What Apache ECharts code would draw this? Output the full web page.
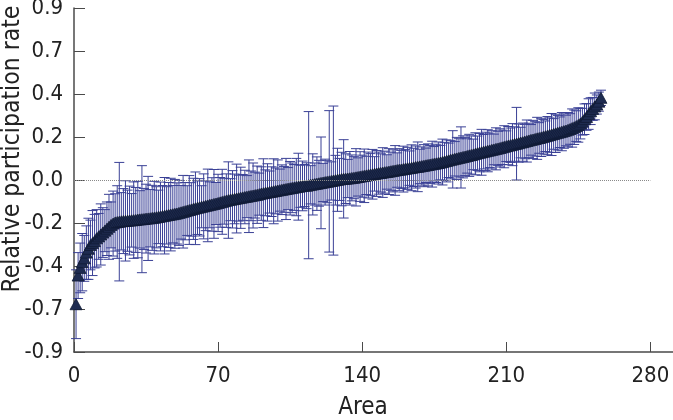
<!DOCTYPE html>
<html>
<head>
<meta charset="utf-8">
<script src="https://cdn.jsdelivr.net/npm/echarts@6/dist/echarts.min.js"></script>
<style>html,body{margin:0;padding:0;background:#fff}#c{width:673px;height:420px}</style>
</head>
<body>
<div id="c"></div>
<script>
// ---- data ----
var xTickValues = [0, 70, 140, 210, 280];
var yTickLabels = ["-0.9", "-0.7", "-0.4", "-0.2", "0.0", "0.2", "0.4", "0.7", "0.9"];
var xLabel = "Area";
var yLabel = "Relative participation rate";

// relative participation rate per area (sorted), area index 1..255
var rates = [
 -0.65, -0.50, -0.46, -0.43, -0.41, -0.38, -0.36, -0.34, -0.33, -0.32,
 -0.305, -0.295, -0.285, -0.275, -0.265, -0.255, -0.245, -0.235, -0.228, -0.222,
 -0.220, -0.218, -0.216, -0.215, -0.214, -0.213, -0.212, -0.211, -0.210, -0.209,
 -0.207, -0.206, -0.205, -0.204, -0.202, -0.201, -0.200, -0.198, -0.197, -0.195,
 -0.193, -0.191, -0.189, -0.187, -0.185, -0.183, -0.181, -0.179, -0.177, -0.175,
 -0.172, -0.169, -0.166, -0.163, -0.160, -0.157, -0.154, -0.151, -0.148, -0.145,
 -0.143, -0.140, -0.138, -0.135, -0.133, -0.130, -0.128, -0.125, -0.123, -0.120,
 -0.117, -0.114, -0.111, -0.108, -0.105, -0.103, -0.101, -0.099, -0.097, -0.095,
 -0.093, -0.091, -0.089, -0.087, -0.085, -0.083, -0.081, -0.079, -0.077, -0.074,
 -0.071, -0.069, -0.067, -0.065, -0.063, -0.061, -0.059, -0.057, -0.055, -0.053,
 -0.051, -0.049, -0.047, -0.045, -0.043, -0.041, -0.039, -0.037, -0.035, -0.033,
 -0.031, -0.029, -0.030, -0.027, -0.025, -0.023, -0.021, -0.019, -0.017, -0.015,
 -0.013, -0.011, -0.009, -0.007, -0.005, -0.003, -0.001, 0.001, 0.003, 0.005,
 0.006, 0.007, 0.008, 0.009, 0.011, 0.012, 0.014, 0.016, 0.018, 0.020,
 0.022, 0.024, 0.026, 0.028, 0.030, 0.032, 0.034, 0.036, 0.037, 0.039,
 0.041, 0.042, 0.044, 0.046, 0.048, 0.050, 0.052, 0.054, 0.055, 0.057,
 0.059, 0.061, 0.062, 0.064, 0.066, 0.068, 0.069, 0.071, 0.073, 0.075,
 0.077, 0.079, 0.081, 0.083, 0.085, 0.087, 0.089, 0.091, 0.094, 0.097,
 0.100, 0.103, 0.106, 0.108, 0.111, 0.113, 0.116, 0.118, 0.121, 0.123,
 0.126, 0.129, 0.131, 0.134, 0.137, 0.140, 0.143, 0.145, 0.148, 0.150,
 0.153, 0.155, 0.158, 0.160, 0.163, 0.165, 0.168, 0.171, 0.174, 0.177,
 0.180, 0.182, 0.185, 0.188, 0.190, 0.193, 0.196, 0.198, 0.201, 0.204,
 0.207, 0.210, 0.212, 0.215, 0.218, 0.220, 0.223, 0.226, 0.229, 0.232,
 0.235, 0.238, 0.241, 0.244, 0.247, 0.250, 0.253, 0.256, 0.259, 0.263,
 0.267, 0.272, 0.276, 0.282, 0.288, 0.295, 0.305, 0.318, 0.330, 0.345,
 0.360, 0.372, 0.385, 0.395, 0.410, 0.430
];

// half width of the error bar for each area
var errors = [
 0.18, 0.12, 0.13, 0.15, 0.12, 0.14, 0.16, 0.13, 0.17, 0.14,
 0.15, 0.12, 0.16, 0.13, 0.11, 0.14, 0.17, 0.12, 0.17, 0.15,
 0.19, 0.31, 0.15, 0.17, 0.21, 0.16, 0.18, 0.14, 0.20, 0.17,
 0.20, 0.15, 0.28, 0.16, 0.18, 0.22, 0.15, 0.17, 0.19, 0.16,
 0.14, 0.18, 0.16, 0.20, 0.15, 0.17, 0.19, 0.15, 0.18, 0.16,
 0.17, 0.14, 0.19, 0.15, 0.13, 0.18, 0.14, 0.16, 0.19, 0.14,
 0.15, 0.11, 0.17, 0.13, 0.19, 0.12, 0.14, 0.18, 0.11, 0.15,
 0.13, 0.17, 0.12, 0.14, 0.20, 0.11, 0.15, 0.13, 0.18, 0.12,
 0.16, 0.12, 0.14, 0.11, 0.19, 0.13, 0.17, 0.12, 0.15, 0.11,
 0.14, 0.18, 0.12, 0.15, 0.11, 0.13, 0.17, 0.12, 0.16, 0.11,
 0.13, 0.12, 0.16, 0.11, 0.14, 0.13, 0.12, 0.15, 0.175, 0.11,
 0.13, 0.11, 0.12, 0.385, 0.10, 0.16, 0.11, 0.14, 0.12, 0.24,
 0.10, 0.12, 0.11, 0.37, 0.10, 0.39, 0.13, 0.165, 0.11, 0.14,
 0.205, 0.13, 0.10, 0.14, 0.12, 0.11, 0.15, 0.10, 0.13, 0.11,
 0.14, 0.10, 0.12, 0.11, 0.13, 0.09, 0.12, 0.11, 0.10, 0.13,
 0.11, 0.09, 0.12, 0.10, 0.11, 0.13, 0.09, 0.11, 0.10, 0.12,
 0.10, 0.11, 0.09, 0.12, 0.10, 0.11, 0.13, 0.09, 0.10, 0.11,
 0.09, 0.11, 0.10, 0.12, 0.09, 0.10, 0.11, 0.09, 0.12, 0.10,
 0.11, 0.09, 0.10, 0.15, 0.09, 0.11, 0.10, 0.16, 0.11, 0.10,
 0.09, 0.11, 0.10, 0.08, 0.11, 0.09, 0.10, 0.12, 0.09, 0.10,
 0.11, 0.09, 0.10, 0.08, 0.11, 0.09, 0.10, 0.09, 0.11, 0.08,
 0.10, 0.09, 0.11, 0.09, 0.19, 0.10, 0.08, 0.10, 0.09, 0.11,
 0.09, 0.08, 0.10, 0.09, 0.11, 0.08, 0.10, 0.09, 0.08, 0.10,
 0.09, 0.11, 0.08, 0.10, 0.09, 0.08, 0.10, 0.09, 0.08, 0.09,
 0.08, 0.10, 0.09, 0.08, 0.09, 0.08, 0.07, 0.08, 0.07, 0.08,
 0.07, 0.06, 0.07, 0.05, 0.05, 0.04
];

// ---- build series data ----
var pointData = [];
var barData = [];
for (var i = 0; i < rates.length; i++) {
  var x = i + 1;
  pointData.push([x, rates[i]]);
  barData.push([x, rates[i] - errors[i], rates[i] + errors[i]]);
}

var FONT = "'Liberation Sans Narrow', 'DejaVu Sans Condensed', 'Liberation Sans', sans-serif";
var BAR_COLOR = '#3a4096';

var chart = echarts.init(document.getElementById('c'), null, {renderer: 'canvas'});
chart.setOption({
  animation: false,
  backgroundColor: '#ffffff',
  grid: {left: 74, right: 0, top: 8, bottom: 68, containLabel: false, outerBoundsMode: 'none'},
  xAxis: {
    type: 'value', min: 0, max: 291,
    axisLine: {show: true, onZero: false, lineStyle: {color: '#4a4a4a', width: 1.5}},
    axisTick: {show: true, inside: true, length: 10, customValues: xTickValues, lineStyle: {color: '#4a4a4a', width: 1}},
    axisLabel: {show: true, customValues: xTickValues, margin: 13, fontSize: 22, color: '#222', fontFamily: FONT,
      formatter: function (v) { return v > 280 ? '' : String(v); }},
    splitLine: {show: false}
  },
  yAxis: {
    type: 'value', min: -0.9, max: 0.9, interval: 0.225,
    axisLine: {show: true, onZero: false, lineStyle: {color: '#4a4a4a', width: 1.5}},
    axisTick: {show: true, inside: true, length: 11, lineStyle: {color: '#4a4a4a', width: 1}},
    axisLabel: {margin: 11, fontSize: 22, color: '#222', fontFamily: FONT,
      formatter: function (v) { return yTickLabels[Math.round((v + 0.9) / 0.225)]; }},
    splitLine: {show: false}
  },
  graphic: [
    {type: 'text', x: 363, y: 408,
     style: {text: xLabel, fontSize: 24, fontFamily: FONT, fill: '#222', textAlign: 'center', textVerticalAlign: 'middle'}},
    {type: 'text', x: 13, y: 149, rotation: Math.PI / 2,
     style: {text: yLabel, fontSize: 24.5, fontFamily: FONT, fill: '#222', textAlign: 'center', textVerticalAlign: 'middle'}}
  ],
  series: [
    {
      type: 'custom',
      name: 'CI',
      data: barData,
      z: 2,
      renderItem: function (params, api) {
        var x = api.value(0);
        var pLo = api.coord([x, api.value(1)]);
        var pHi = api.coord([x, api.value(2)]);
        var hw = 5;
        var st = {stroke: BAR_COLOR, lineWidth: 1};
        return {type: 'group', children: [
          {type: 'line', shape: {x1: pHi[0], y1: pHi[1], x2: pLo[0], y2: pLo[1]}, style: st},
          {type: 'line', shape: {x1: pHi[0] - hw, y1: pHi[1], x2: pHi[0] + hw, y2: pHi[1]}, style: st},
          {type: 'line', shape: {x1: pLo[0] - hw, y1: pLo[1], x2: pLo[0] + hw, y2: pLo[1]}, style: st}
        ]};
      }
    },
    {
      type: 'scatter',
      name: 'rate',
      data: pointData,
      z: 3,
      symbol: 'triangle',
      symbolSize: [12, 11],
      itemStyle: {color: '#1e2b50', borderColor: '#101a35', borderWidth: 0.8, opacity: 1},
      markLine: {
        silent: true, symbol: 'none', label: {show: false},
        lineStyle: {color: '#8a8a8a', type: 'dotted', width: 1},
        data: [[{coord: [0, 0]}, {coord: [280, 0]}]]
      }
    }
  ]
});
</script>
</body>
</html>
